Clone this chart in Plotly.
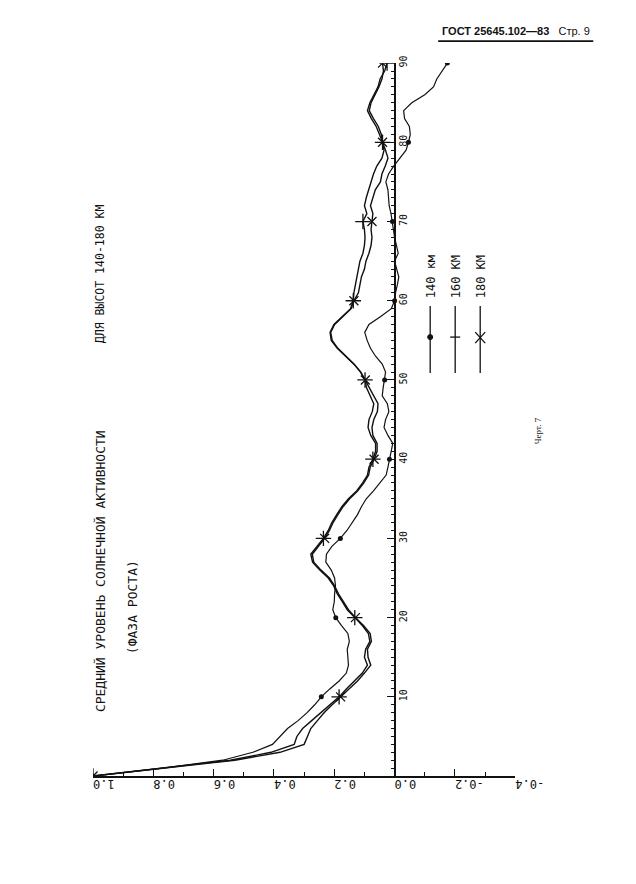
import plotly.graph_objects as go

# ---------------- data ----------------
lags = list(range(0, 91))

r140 = [1.0, 0.77, 0.57, 0.47, 0.405, 0.38, 0.355, 0.32, 0.29, 0.265,
        0.243, 0.215, 0.184, 0.16, 0.153, 0.155, 0.157, 0.15, 0.155, 0.176,
        0.195, 0.205, 0.2, 0.199, 0.196, 0.199, 0.21, 0.228, 0.226, 0.208,
        0.18, 0.158, 0.14, 0.123, 0.11, 0.094, 0.07, 0.05, 0.028, 0.022,
        0.017, 0.011, 0.006, 0.022, 0.035, 0.03, 0.019, 0.024, 0.041, 0.038,
        0.033, 0.03, 0.041, 0.063, 0.08, 0.091, 0.099, 0.085, 0.046, 0.011,
        0.0, -0.003, -0.009, -0.014, -0.007, 0.0, -0.012, -0.005, 0.0, 0.004,
        0.007, 0.012, 0.018, 0.02, 0.022, 0.029, 0.02, 0.003, -0.019, -0.038,
        -0.046, -0.052, -0.049, -0.033, -0.03, -0.057, -0.1, -0.129, -0.14, -0.157,
        -0.175]

r160 = [1.0, 0.765, 0.545, 0.41, 0.333, 0.324, 0.305, 0.275, 0.245, 0.215,
        0.184, 0.16, 0.134, 0.107, 0.09, 0.1, 0.096, 0.082, 0.087, 0.107,
        0.132, 0.157, 0.173, 0.19, 0.202, 0.22, 0.248, 0.272, 0.278, 0.256,
        0.236, 0.22, 0.208, 0.192, 0.175, 0.153, 0.126, 0.106, 0.09, 0.085,
        0.072, 0.063, 0.063, 0.079, 0.088, 0.085, 0.074, 0.069, 0.08, 0.093,
        0.098, 0.113, 0.135, 0.162, 0.19, 0.21, 0.214, 0.201, 0.173, 0.146,
        0.137, 0.135, 0.13, 0.126, 0.12, 0.115, 0.105, 0.1, 0.098, 0.1,
        0.105, 0.092, 0.1, 0.094, 0.086, 0.08, 0.07, 0.059, 0.042, 0.035,
        0.04, 0.05, 0.061, 0.077, 0.09, 0.082, 0.068, 0.055, 0.048, 0.033,
        0.025]

r180 = [1.0, 0.76, 0.53, 0.38, 0.3, 0.289, 0.278, 0.256, 0.234, 0.207,
        0.179, 0.15, 0.123, 0.1, 0.079, 0.088, 0.09, 0.077, 0.081, 0.103,
        0.13, 0.153, 0.169, 0.186, 0.199, 0.216, 0.244, 0.268, 0.273, 0.252,
        0.232, 0.216, 0.204, 0.188, 0.171, 0.149, 0.122, 0.102, 0.086, 0.081,
        0.068, 0.058, 0.058, 0.072, 0.075, 0.069, 0.057, 0.055, 0.069, 0.082,
        0.097, 0.112, 0.134, 0.16, 0.188, 0.207, 0.212, 0.199, 0.171, 0.144,
        0.135, 0.12, 0.115, 0.11, 0.1, 0.095, 0.085, 0.078, 0.075, 0.078,
        0.075, 0.072, 0.08, 0.072, 0.064, 0.047, 0.042, 0.031, 0.022, 0.03,
        0.04, 0.044, 0.054, 0.07, 0.084, 0.078, 0.064, 0.052, 0.042, 0.037,
        0.04]

series_names = ["140 км", "160 КМ", "180 КМ"]
corr_ticks = [1.0, 0.8, 0.6, 0.4, 0.2, 0.0, -0.2, -0.4]
corr_ticklabels = ["1.0", "0.8", "0.6", "0.4", "0.2", "0.0", "-0.2", "-0.4"]
lag_ticks = [10, 20, 30, 40, 50, 60, 70, 80, 90]
lag_ticklabels = ["10", "20", "30", "40", "50", "60", "70", "80", "90"]

title_1 = "СРЕДНИЙ УРОВЕНЬ СОЛНЕЧНОЙ АКТИВНОСТИ"
title_2 = "(ФАЗА РОСТА)"
title_3 = "ДЛЯ ВЫСОТ 140-180 КМ"
header = "<b>ГОСТ 25645.102—83</b>   Стр. 9"
figure_note = "Черт. 7"

# ---------------- layout helpers ----------------
W, H = 636, 884
# placement helpers: page-pixel targets -> paper fractions
# (includes a measured correction for how the page is captured)
SX = 0.954
SY, Y0 = 0.991, 106.0
def px(x):
    return (x / SX) / W
def py(y):
    return 1 - (100 + (y - Y0) / SY) / H

INK = "#111111"
MONO = "DejaVu Sans Mono"
x_range = [1.0, -0.4]
y_range = [0, 90]
x_dom = [px(93), px(515)]
y_dom = [py(775), py(62)]
zero_frac = (x_range[0] - 0.0) / (x_range[0] - x_range[1])
lag_axis_pos = x_dom[0] + zero_frac * (x_dom[1] - x_dom[0])

fig = go.Figure()

series = [r140, r160, r180]
line_widths = [1.2, 1.4, 1.4]
for vals, name, lw in zip(series, series_names, line_widths):
    fig.add_trace(go.Scatter(x=vals, y=lags, mode="lines", name=name,
                             line=dict(color=INK, width=lw), showlegend=False))

marker_styles = [
    dict(symbol="circle", size=5, color=INK),
    dict(symbol="cross-thin", size=11, color=INK, line=dict(color=INK, width=1.3)),
    dict(symbol="x-thin", size=9, color=INK, line=dict(color=INK, width=1.3)),
]
for vals, name, ms in zip(series, series_names, marker_styles):
    mx = [v for v, l in zip(vals, lags) if l % 10 == 0]
    my = [l for l in lags if l % 10 == 0]
    fig.add_trace(go.Scatter(x=mx, y=my, mode="markers", name=name,
                             marker=ms, showlegend=False))

fig.update_layout(
    width=W, height=H,
    margin=dict(l=0, r=0, t=0, b=0),
    paper_bgcolor="white", plot_bgcolor="white",
    showlegend=False,
    xaxis=dict(domain=x_dom, range=x_range, anchor="y",
               tickvals=corr_ticks, ticktext=corr_ticklabels, tickangle=180,
               ticks="inside", ticklen=7, tickwidth=1.3, tickcolor=INK,
               minor=dict(dtick=0.1, tick0=0, ticks="inside", ticklen=4,
                          tickcolor=INK, tickwidth=1),
               showline=True, linecolor=INK, linewidth=1.8,
               showgrid=False, zeroline=False,
               tickfont=dict(family=MONO, size=12, color=INK)),
    yaxis=dict(domain=y_dom, range=y_range, anchor="free",
               position=lag_axis_pos, side="right",
               tickvals=lag_ticks, ticktext=lag_ticklabels, tickangle=-90,
               ticks="inside", ticklen=7, tickwidth=1.3, tickcolor=INK,
               minor=dict(dtick=1, tick0=0, ticks="inside", ticklen=3,
                          tickcolor=INK, tickwidth=1),
               showline=True, linecolor=INK, linewidth=1.8,
               showgrid=False, zeroline=False,
               tickfont=dict(family=MONO, size=10, color=INK)),
)

def rot_text(text, x, y, size, family=MONO):
    return dict(text=text, x=px(x), y=py(y), xref="paper", yref="paper",
                xanchor="center", yanchor="middle", textangle=-90,
                showarrow=False, font=dict(family=family, size=size, color=INK))

ann = []
ann.append(rot_text(title_1, 100, 570, 13))
ann.append(rot_text(title_2, 132, 606, 13))
ann.append(rot_text(title_3, 100, 273, 11.5))
legend_x = [431, 456, 481]
for name, lx in zip(series_names, legend_x):
    ann.append(rot_text(name, lx, 276, 12))
ann.append(rot_text(figure_note, 538, 430, 9, "Liberation Serif"))
ann.append(dict(text=header, x=px(440), y=py(30), xref="paper", yref="paper",
                xanchor="left", yanchor="middle", showarrow=False,
                font=dict(family="Liberation Sans", size=11, color=INK)))

shapes = []
shapes.append(dict(type="line", xref="paper", yref="paper",
                   x0=px(438), x1=px(593), y0=py(40), y1=py(40),
                   line=dict(color=INK, width=1.6)))
for lx in legend_x:
    shapes.append(dict(type="line", xref="paper", yref="paper",
                       x0=px(lx - 1), x1=px(lx - 1), y0=py(305), y1=py(372),
                       line=dict(color=INK, width=1.3)))
shapes.append(dict(type="circle", xref="paper", yref="paper",
                   x0=px(427.5), x1=px(432.5), y0=py(333.5), y1=py(338.5),
                   fillcolor=INK, line=dict(color=INK, width=1)))
shapes.append(dict(type="line", xref="paper", yref="paper",
                   x0=px(450), x1=px(460), y0=py(336), y1=py(336),
                   line=dict(color=INK, width=1.3)))
shapes.append(dict(type="line", xref="paper", yref="paper",
                   x0=px(475), x1=px(485), y0=py(331), y1=py(342),
                   line=dict(color=INK, width=1.3)))
shapes.append(dict(type="line", xref="paper", yref="paper",
                   x0=px(475), x1=px(485), y0=py(342), y1=py(331),
                   line=dict(color=INK, width=1.3)))

fig.update_layout(annotations=ann, shapes=shapes)
fig.write_html("out.html", config={"displayModeBar": False},
               post_script="document.body.style.margin='0';"
                           "document.body.style.overflow='hidden';")
